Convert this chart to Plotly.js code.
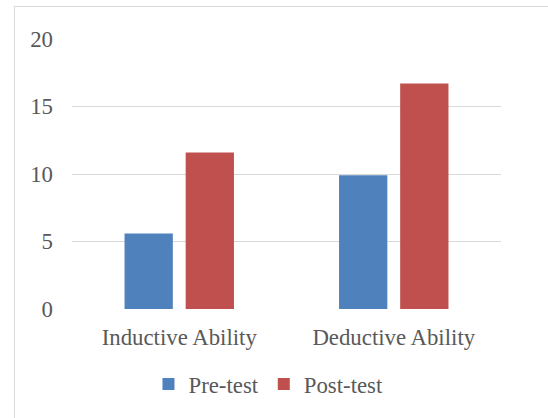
<!DOCTYPE html>
<html>
<head>
<meta charset="utf-8">
<script src="https://cdn.plot.ly/plotly-3.0.1.min.js"></script>
<style>
html,body{margin:0;padding:0;background:#fff;overflow:hidden;}
#frame{position:absolute;left:14px;top:6px;width:600px;height:500px;border:1px solid #d9d9d9;box-sizing:border-box;}
#chart{position:absolute;left:0;top:0;width:548px;height:418px;}
</style>
</head>
<body>
<div id="frame"></div>
<div id="chart"></div>
<script>
var categories = ["Inductive Ability", "Deductive Ability"];
var preTest = [5.6, 9.9];
var postTest = [11.6, 16.7];
var seriesNames = ["Pre-test", "Post-test"];
var tickVals = [0, 5, 10, 15, 20];

var font = {family: "Liberation Serif, Times New Roman, serif", size: 22.8, color: "#595959"};

var data = [
  {type: "bar", name: seriesNames[0], x: categories, y: preTest, marker: {color: "#4f81bd"}},
  {type: "bar", name: seriesNames[1], x: categories, y: postTest, marker: {color: "#c0504d"}}
];

var layout = {
  width: 548, height: 418,
  margin: {l: 72, r: 47, t: 39, b: 107},
  paper_bgcolor: "rgba(0,0,0,0)",
  plot_bgcolor: "rgba(0,0,0,0)",
  font: font,
  barmode: "group",
  bargap: 0.43,
  bargroupgap: 0.21,
  showlegend: true,
  legend: {orientation: "h", x: 0.458, xanchor: "center", y: -0.278, yanchor: "middle", font: font, itemwidth: 30, tracegroupgap: 0},
  xaxis: {showgrid: false, showline: false, zeroline: false, ticks: "", tickfont: font, ticklabelstandoff: 12},
  yaxis: {range: [0, 20], tickvals: tickVals, showgrid: true, gridcolor: "#d9d9d9", gridwidth: 1,
          zeroline: false, showline: false, ticks: "", tickfont: font, ticklabelstandoff: 18}
};

Plotly.newPlot("chart", data, layout, {displayModeBar: false, staticPlot: true});
</script>
</body>
</html>
